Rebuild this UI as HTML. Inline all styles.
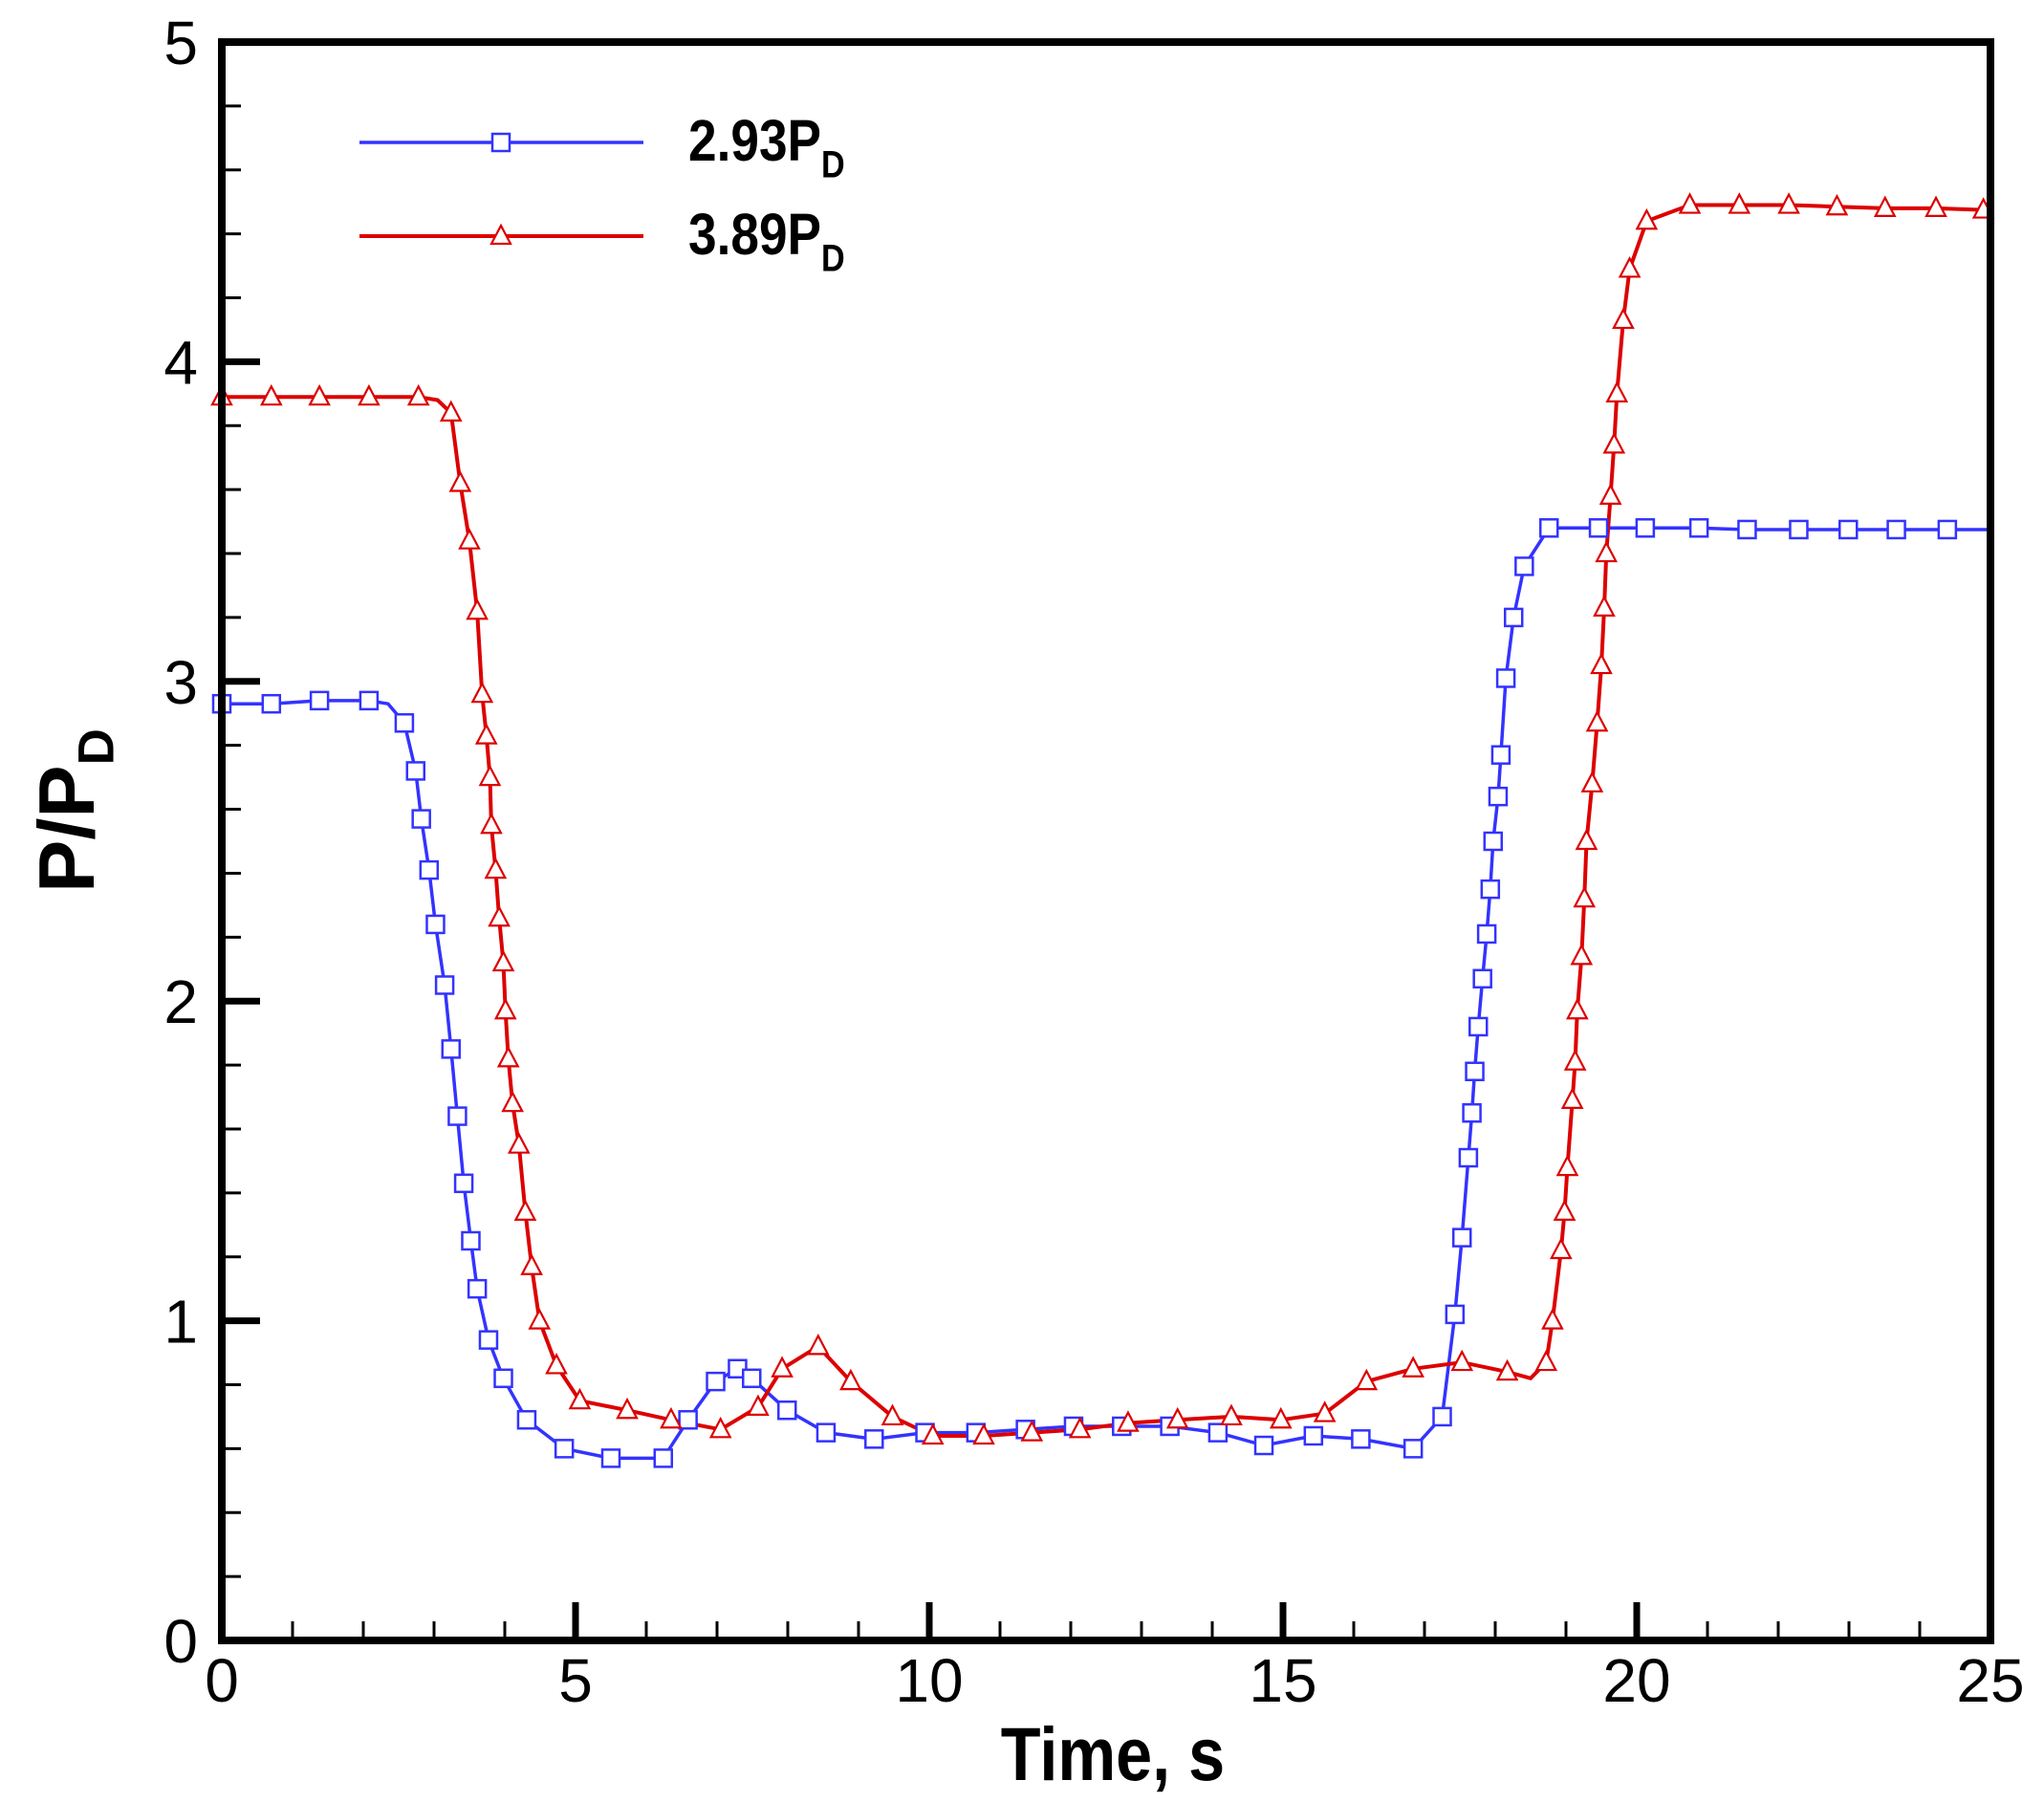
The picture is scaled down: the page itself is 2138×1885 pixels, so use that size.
<!DOCTYPE html>
<html><head><meta charset="utf-8"><style>
html,body{margin:0;padding:0;background:#fff;}
svg{display:block;}
</style></head><body>
<svg id="s" width="2138" height="1885" xmlns="http://www.w3.org/2000/svg" font-family="Liberation Sans, Arial, sans-serif">
<rect width="2138" height="1885" fill="#fff"/>
<g id="plot"></g>
<rect x="232" y="44" width="1850" height="1672" fill="none" stroke="#000" stroke-width="8"/>
<g id="ticks" stroke="#000"></g>
<g id="labels" font-size="64" fill="#000"></g>
<g transform="translate(1164,1862) scale(0.95,1.1)"><text x="0" y="0" font-size="72" font-weight="bold" text-anchor="middle">Time, s</text></g>
<g transform="translate(98,848) rotate(-90) scale(1.15,1.15)">
<text x="0" y="0" font-size="72" font-weight="bold" text-anchor="middle">P/P<tspan font-size="46" dy="18">D</tspan></text>
</g>
<g id="legend"></g>
<g transform="translate(720,168) scale(0.95,1.1)"><text x="0" y="0" font-size="56" font-weight="bold">2.93P<tspan font-size="36" dy="16">D</tspan></text></g>
<g transform="translate(720,266) scale(0.95,1.1)"><text x="0" y="0" font-size="56" font-weight="bold">3.89P<tspan font-size="36" dy="16">D</tspan></text></g>
</svg>
<script>
var X0=232,XU=74,Y0=1716,YU=334.4;
function px(t){return X0+t*XU;} function py(p){return Y0-p*YU;}
var NS="http://www.w3.org/2000/svg";
function el(tag,attrs,parent){var e=document.createElementNS(NS,tag);for(var k in attrs)e.setAttribute(k,attrs[k]);parent.appendChild(e);return e;}
var ticks=document.getElementById('ticks'),labels=document.getElementById('labels');
for(var i=0;i<=25;i++){var maj=i%5==0;var x=px(i);
 if(i>0&&i<25) el('line',{x1:x,y1:Y0,x2:x,y2:Y0-(maj?40:20),'stroke-width':maj?7:3},ticks);
 if(maj){var t=el('text',{x:x,y:1780,'text-anchor':'middle'},labels);t.textContent=i;}}
for(var j=0;j<=25;j++){var v=j*0.2;var y=py(v);var maj=j%5==0;
 if(j>0&&j<25) el('line',{x1:X0,y1:y,x2:X0+(maj?40:20),y2:y,'stroke-width':maj?7:3},ticks);
 if(maj){var t=el('text',{x:207,y:y+23,'text-anchor':'end'},labels);t.textContent=v.toFixed(0);}}
var blue=[[0,2.93],[0.7,2.93],[1.38,2.94],[2.08,2.94],[2.35,2.93],[2.58,2.87],[2.74,2.72],[2.82,2.57],[2.93,2.41],[3.02,2.24],[3.15,2.05],[3.24,1.85],[3.33,1.64],[3.42,1.43],[3.52,1.25],[3.61,1.10],[3.77,0.94],[3.98,0.82],[4.31,0.69],[4.84,0.60],[5.5,0.57],[6.24,0.57],[6.59,0.69],[6.98,0.81],[7.29,0.85],[7.49,0.82],[7.99,0.72],[8.54,0.65],[9.22,0.63],[9.94,0.65],[10.66,0.65],[11.36,0.66],[12.04,0.67],[12.72,0.67],[13.4,0.67],[14.08,0.65],[14.73,0.61],[15.43,0.64],[16.1,0.63],[16.84,0.60],[17.25,0.70],[17.43,1.02],[17.53,1.26],[17.62,1.51],[17.67,1.65],[17.71,1.78],[17.76,1.92],[17.82,2.07],[17.88,2.21],[17.93,2.35],[17.97,2.50],[18.04,2.64],[18.08,2.77],[18.15,3.01],[18.26,3.20],[18.41,3.36],[18.76,3.48],[19.46,3.48],[20.12,3.48],[20.88,3.48],[21.56,3.475],[22.29,3.475],[22.99,3.475],[23.67,3.475],[24.39,3.475],[25,3.475]];
var red=[[0,3.89],[0.7,3.89],[1.38,3.89],[2.08,3.89],[2.78,3.89],[3.05,3.88],[3.24,3.84],[3.37,3.62],[3.5,3.44],[3.61,3.22],[3.68,2.96],[3.74,2.83],[3.79,2.70],[3.81,2.55],[3.87,2.41],[3.92,2.26],[3.98,2.12],[4.01,1.97],[4.05,1.82],[4.11,1.68],[4.2,1.55],[4.29,1.34],[4.38,1.17],[4.49,1.0],[4.73,0.86],[5.06,0.75],[5.73,0.72],[6.35,0.69],[7.05,0.66],[7.58,0.73],[7.92,0.85],[8.43,0.92],[8.89,0.81],[9.48,0.70],[10.05,0.64],[10.77,0.64],[11.45,0.65],[12.13,0.66],[12.81,0.68],[13.51,0.69],[14.27,0.70],[14.97,0.69],[15.59,0.71],[16.18,0.81],[16.84,0.85],[17.53,0.87],[18.17,0.84],[18.5,0.82],[18.72,0.87],[18.81,1.0],[18.93,1.22],[18.98,1.34],[19.02,1.48],[19.09,1.69],[19.13,1.81],[19.16,1.97],[19.22,2.14],[19.26,2.32],[19.29,2.50],[19.37,2.68],[19.44,2.87],[19.5,3.05],[19.54,3.23],[19.57,3.40],[19.63,3.58],[19.68,3.74],[19.72,3.90],[19.81,4.13],[19.9,4.29],[20.14,4.44],[20.75,4.49],[21.45,4.49],[22.15,4.49],[22.83,4.485],[23.51,4.48],[24.23,4.48],[24.9,4.475],[25,4.475]];
var plot=document.getElementById('plot');
function pts(a){return a.map(function(p){return px(p[0]).toFixed(1)+','+py(p[1]).toFixed(1);}).join(' ');}
function sq(g,x,y,c){el('rect',{x:x-9,y:y-9,width:18,height:18,fill:'#fff',stroke:c,'stroke-width':2.5},g);}
function tri(g,x,y,c){el('polygon',{points:(x-10)+','+(y+8)+' '+(x+10)+','+(y+8)+' '+x+','+(y-11),fill:'#fff',stroke:c,'stroke-width':2.2},g);}
el('polyline',{points:pts(blue),fill:'none',stroke:'#3333ff','stroke-width':3.5},plot);
el('polyline',{points:pts(red),fill:'none',stroke:'#dd0000','stroke-width':4},plot);
blue.forEach(function(p,i){if(p[0]==2.35||p[0]==25)return;sq(plot,px(p[0]),py(p[1]),'#3333ff');});
red.forEach(function(p,i){if(p[0]==3.05||p[0]==25||p[0]==18.5)return;tri(plot,px(p[0]),py(p[1]),'#dd0000');});
var lg=document.getElementById('legend');
el('line',{x1:376,y1:149,x2:673,y2:149,stroke:'#3333ff','stroke-width':3.5},lg);
sq(lg,524,149,'#3333ff');
el('line',{x1:376,y1:247,x2:673,y2:247,stroke:'#dd0000','stroke-width':4},lg);
tri(lg,524,247,'#dd0000');
</script>
</body></html>
